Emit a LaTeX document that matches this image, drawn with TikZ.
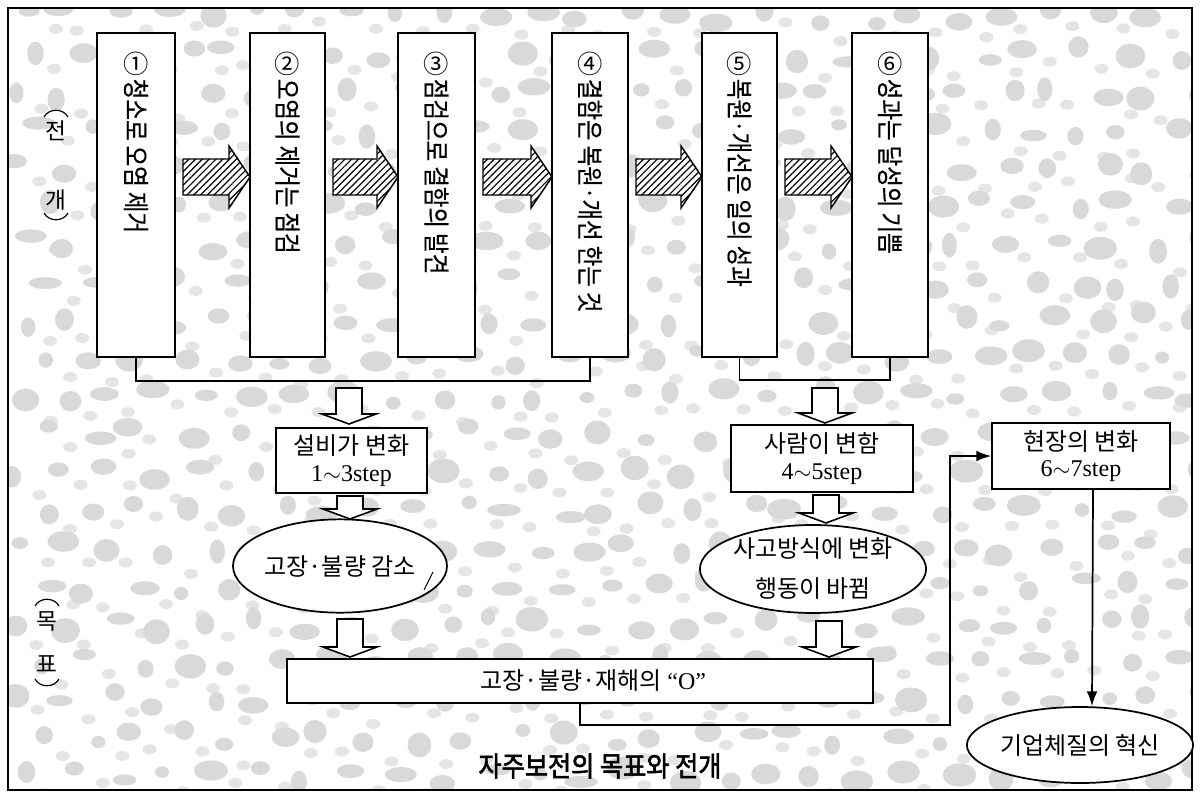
\documentclass[tikz,border=0pt]{standalone}
\usepackage{fontspec}
\setmainfont{Liberation Serif}
\newfontfamily\kr{Noto Sans CJK KR}
\newfontfamily\krv{Noto Sans CJK KR}[FakeStretch=0.84,FakeBold=0.4]
\newfontfamily\krcap{Noto Sans CJK KR}[FakeStretch=0.9,FakeBold=2]
\usetikzlibrary{shapes.geometric,patterns.meta,arrows.meta,fit}
\newcommand\HArrow[2]{%
  \path[fill=white] (#1,159)--(#2-21,159)--(#2-21,146)--(#2,177)--(#2-21,208)--(#2-21,195)--(#1,195)--cycle;
  \path[hatch] (#1,159)--(#2-21,159)--(#2-21,146)--(#2,177)--(#2-21,208)--(#2-21,195)--(#1,195)--cycle;}
\newcommand\DArrow[3]{%
  \path[blockdown] (#1-13,#2)--(#1+13,#2)--(#1+13,#3-10)--(#1+27,#3-10)--(#1,#3)--(#1-27,#3-10)--(#1-13,#3-10)--cycle;}
\begin{document}
\begin{tikzpicture}[x=0.75pt,y=-0.75pt,line width=1.2pt,
  box/.style={draw,fill=white,inner sep=0pt,line width=1.3pt},
  vtext/.style={rotate=-90,anchor=west,inner sep=0pt,font=\krv\fontsize{20}{24}\selectfont},
  num/.style={inner sep=0pt,font=\kr\fontsize{19}{22}\selectfont},
  mid/.style={box,align=center,font=\fontsize{18}{20}\selectfont},
  oval/.style={draw,fill=white,ellipse,inner sep=0pt,line width=1.3pt,align=center},
  hatch/.style={draw,line width=1.1pt,line join=miter,pattern={Lines[angle=45,distance=3.6pt,line width=0.9pt]}},
  blockdown/.style={draw,fill=white,line width=1.2pt,line join=miter},
  conn/.style={line width=1.3pt},
  arr/.style={conn,-{Latex[length=11pt,width=8pt]}},
  blob/.style={fill=black!15},
  speck/.style={fill=black!10},
  side/.style={font=\kr\fontsize{17}{20}\selectfont,inner sep=0pt},
  paren/.style={line width=0.9pt},
]
\useasboundingbox (0,0) rectangle (1202,796);
\fill[white] (0,0) rectangle (1202,796);
% background texture
\begin{scope}
\clip (8,8) rectangle (1192,790);
\pgfmathsetseed{17}
\foreach \j in {0,...,20}{
 \foreach \i in {0,...,25}{
  \pgfmathsetmacro\cx{20+47*\i+23*mod(\j,2)+11*rand}
  \pgfmathsetmacro\cy{16+38*\j+8*rand}
  \pgfmathsetmacro\rx{12+5*rand}
  \pgfmathsetmacro\ry{9+3.5*rand}
  \fill[blob] (\cx,\cy) ellipse [x radius=\rx, y radius=\ry];
  \pgfmathsetmacro\sx{\cx+23+6*rand}
  \pgfmathsetmacro\sy{\cy+17+5*rand}
  \fill[speck] (\sx,\sy) ellipse [x radius=7, y radius=5];
 }}
\end{scope}
\draw[line width=1.3pt] (8,8) rectangle (1192,790);

% side labels
\node[side] (s1) at (56,131) {전};
\node[side] (s2) at (56,200) {개};
\draw[paren] (44,117) .. controls (49,108) and (63,108) .. (68,117);
\draw[paren] (44,213) .. controls (49,222) and (63,222) .. (68,213);
\node[side] (s3) at (47,621) {목};
\node[side] (s4) at (47,664) {표};
\draw[paren] (35,606) .. controls (40,597) and (54,597) .. (59,606);
\draw[paren] (35,679) .. controls (40,688) and (54,688) .. (59,679);

% vertical step boxes
\node[box,fit={(97,33)(175,357)}] (b1) {};
\node[box,fit={(250,33)(325,357)}] (b2) {};
\node[box,fit={(398,33)(475,357)}] (b3) {};
\node[box,fit={(552,33)(628,357)}] (b4) {};
\node[box,fit={(702,33)(777,357)}] (b5) {};
\node[box,fit={(852,33)(928,357)}] (b6) {};
\node[num] (n1) at (136,64) {①};
\node[num] (n2) at (287.5,64) {②};
\node[num] (n3) at (436.5,64) {③};
\node[num] (n4) at (590,64) {④};
\node[num] (n5) at (739.5,64) {⑤};
\node[num] (n6) at (890,64) {⑥};
\node[vtext] (t1) at (136,78) {청소로 오염 제거};
\node[vtext] (t2) at (287.5,78) {오염의 제거는 점검};
\node[vtext] (t3) at (436.5,78) {점검으로 결함의 발견};
\node[vtext] (t4) at (590,78) {결함은 복원·개선 한는 것};
\node[vtext] (t5) at (739.5,78) {복원·개선은 일의 성과};
\node[vtext] (t6) at (890,78) {성과는 달성의 기쁨};

% hatched arrows
\HArrow{183}{250}
\HArrow{333}{398}
\HArrow{483}{552}
\HArrow{636}{702}
\HArrow{785}{852}

% brackets
\draw[conn] (b1.south) -- ++(0,23) -| (b4.south);
\draw[conn] (b5.south) -- ++(0,22) -| (b6.south);

% middle boxes
\node[mid,minimum width=113.25pt,minimum height=48.75pt] (m1) at (351.5,460.5) {{\kr 설비가 변화}\\1$\sim$3step};
\node[mid,minimum width=136.5pt,minimum height=50.25pt] (m2) at (822,458.5) {{\kr 사람이 변함}\\4$\sim$5step};
\node[mid,minimum width=133.5pt,minimum height=49.5pt] (m3) at (1081,456) {{\kr 현장의 변화}\\6$\sim$7step};
\node[mid,minimum width=439.5pt,minimum height=33pt] (long) at (580,681) {\hspace*{20pt}{\kr 고장·불량·재해의 }“O”};

% ellipses
\node[oval,minimum width=150pt,minimum height=70pt,font=\kr\fontsize{18}{21}\selectfont] (e1) at (340,566) {고장·불량 감소};
\draw[line width=0.8pt] (424,590) -- (433,572);
\node[oval,minimum width=157.5pt,minimum height=66pt,font=\kr\fontsize{18}{30}\selectfont] (e2) at (813,569) {사고방식에 변화\\행동이 바뀜};
\node[oval,minimum width=165pt,minimum height=57pt,font=\kr\fontsize{18}{21}\selectfont] (e3) at (1080,745) {기업체질의 혁신};

% block down arrows
\DArrow{349}{388}{424}
\DArrow{350}{496}{519}
\DArrow{350}{619}{657}
\DArrow{825}{388}{423}
\DArrow{826}{495}{523}
\DArrow{829}{621}{657}

% connectors
\coordinate (turn) at (950,725);
\draw[arr] (long.south) |- (turn) |- (m3.west);
\draw[arr] ([xshift=9pt]m3.south) -- ([xshift=9pt]e3.north);

% caption
\node[font=\krcap\fontsize{21}{24}\selectfont,inner sep=0pt] (cap) at (600,766) {자주보전의 목표와 전개};
\end{tikzpicture}
\end{document}
